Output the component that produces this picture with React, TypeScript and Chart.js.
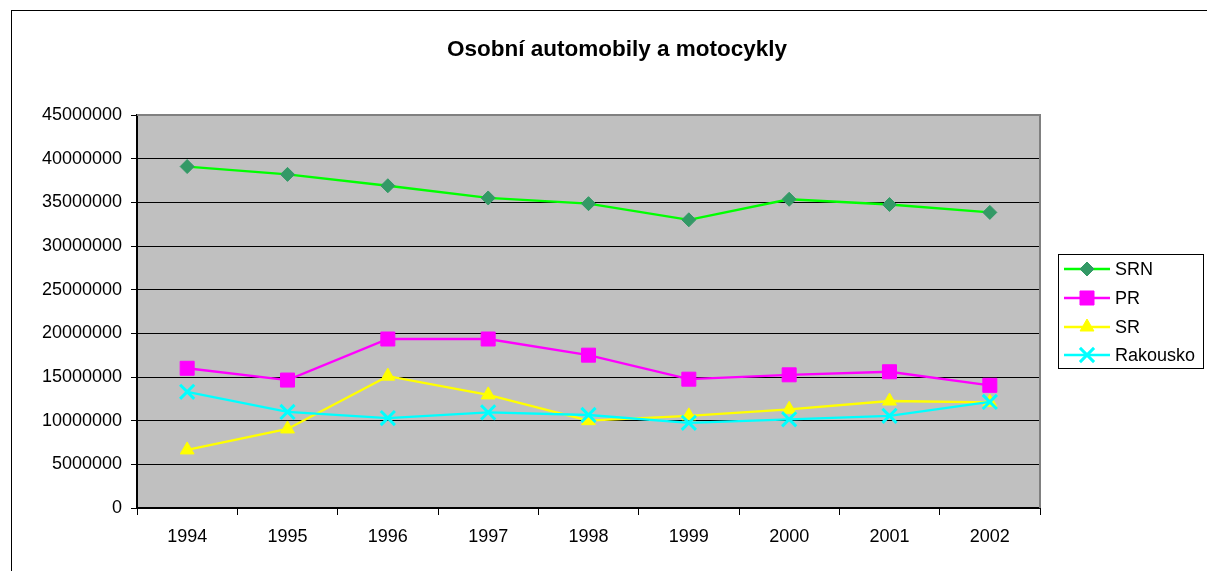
import React, { useEffect, useRef } from "react";
import { Chart, registerables } from "chart.js";
import { drawPoint } from "chart.js/helpers";

Chart.register(...registerables);

const years = ["1994", "1995", "1996", "1997", "1998", "1999", "2000", "2001", "2002"];
const srn = [39100000, 38200000, 36900000, 35500000, 34850000, 33000000, 35350000, 34750000, 33850000];
const pr = [16000000, 14650000, 19350000, 19350000, 17500000, 14750000, 15250000, 15600000, 14050000];
const sr = [6650000, 9050000, 15100000, 12950000, 10000000, 10550000, 11300000, 12250000, 12100000];
const rakousko = [13300000, 11000000, 10300000, 10950000, 10650000, 9750000, 10150000, 10550000, 12150000];
const seriesNames = ["SRN", "PR", "SR", "Rakousko"];
const chartTitle = "Osobní automobily a motocykly";

const FONT = "'Liberation Sans', Arial, sans-serif";

export default function App() {
  const ref = useRef<HTMLCanvasElement | null>(null);

  useEffect(() => {
    document.body.style.margin = "0";
    const canvas = ref.current!;
    const decor = {
      id: "decor",
      beforeDraw(chart: any) {
        const { ctx, chartArea: a } = chart;
        ctx.save();
        ctx.fillStyle = "#ffffff";
        ctx.fillRect(0, 0, chart.width, chart.height);
        ctx.strokeStyle = "#000000";
        ctx.lineWidth = 1;
        ctx.strokeRect(11.5, 10.5, 1300, 700);
        ctx.fillStyle = "#C0C0C0";
        ctx.fillRect(a.left, a.top, a.right - a.left, a.bottom - a.top);
        ctx.restore();
      },
      beforeDatasetsDraw(chart: any) {
        const { ctx, chartArea: a } = chart;
        ctx.save();
        ctx.strokeStyle = "#808080";
        ctx.lineWidth = 2;
        ctx.beginPath();
        ctx.moveTo(a.left, a.top);
        ctx.lineTo(a.right, a.top);
        ctx.lineTo(a.right, a.bottom);
        ctx.stroke();
        ctx.restore();
      },
      afterDraw(chart: any) {
        const { ctx } = chart;
        ctx.save();
        // title
        ctx.fillStyle = "#000";
        ctx.font = `bold 22.5px ${FONT}`;
        ctx.textAlign = "center";
        ctx.textBaseline = "middle";
        ctx.fillText(chartTitle, 617, 50);
        // legend
        ctx.strokeStyle = "#000";
        ctx.lineWidth = 1;
        ctx.strokeRect(1058.5, 254.5, 145, 114);
        const rows = [269, 298, 327, 355];
        chart.data.datasets.forEach((ds: any, i: number) => {
          const y = rows[i];
          ctx.strokeStyle = ds.borderColor;
          ctx.lineWidth = ds.borderWidth;
          ctx.beginPath();
          ctx.moveTo(1064, y);
          ctx.lineTo(1110, y);
          ctx.stroke();
          ctx.fillStyle = ds.pointBackgroundColor;
          ctx.strokeStyle = ds.pointBorderColor;
          ctx.lineWidth = ds.pointBorderWidth;
          drawPoint(ctx, { pointStyle: ds.pointStyle, rotation: 0, radius: ds.pointRadius, borderWidth: ds.pointBorderWidth }, 1087, y);
          ctx.fillStyle = "#000";
          ctx.font = `18px ${FONT}`;
          ctx.textAlign = "left";
          ctx.textBaseline = "middle";
          ctx.fillText(ds.label, 1115, y + 1);
        });
        ctx.restore();
      },
    };

    const chart = new Chart(canvas, {
      type: "line",
      data: {
        labels: years,
        datasets: [
          {
            label: seriesNames[0], data: srn, borderColor: "#00FF00", borderWidth: 2.3,
            pointStyle: "rectRot", pointRadius: 7, pointBackgroundColor: "#339966",
            pointBorderColor: "#339966", pointBorderWidth: 1, order: 4, tension: 0,
          },
          {
            label: seriesNames[1], data: pr, borderColor: "#FF00FF", borderWidth: 2.3,
            pointStyle: "rect", pointRadius: 9.9, pointBackgroundColor: "#FF00FF",
            pointBorderColor: "#FF00FF", pointBorderWidth: 1, order: 3, tension: 0,
          },
          {
            label: seriesNames[2], data: sr, borderColor: "#FFFF00", borderWidth: 2.3,
            pointStyle: "triangle", pointRadius: 8, pointBackgroundColor: "#FFFF00",
            pointBorderColor: "#FFFF00", pointBorderWidth: 1, order: 2, tension: 0,
          },
          {
            label: seriesNames[3], data: rakousko, borderColor: "#00FFFF", borderWidth: 2.3,
            pointStyle: "crossRot", pointRadius: 10, pointBackgroundColor: "#00FFFF",
            pointBorderColor: "#00FFFF", pointBorderWidth: 3, order: 1, tension: 0,
          },
        ],
      },
      options: {
        responsive: false,
        animation: false,
        events: [],
        layout: { padding: { left: 0, top: 115, right: 167, bottom: 0 } },
        plugins: { legend: { display: false }, title: { display: false }, tooltip: { enabled: false } },
        scales: {
          x: {
            type: "category",
            offset: true,
            afterFit(scale: any) { scale.height = 63; },
            grid: { display: true, drawOnChartArea: false, drawTicks: true, tickLength: 7, offset: true, color: "#000", lineWidth: 1, tickColor: "#000" },
            border: { display: true, color: "#000", width: 2 },
            ticks: { color: "#000", font: { family: FONT, size: 18 }, padding: 11, maxRotation: 0, autoSkip: false },
          },
          y: {
            min: 0,
            max: 45000000,
            afterFit(scale: any) { scale.width = 137; },
            grid: {
              display: true, drawOnChartArea: true, drawTicks: true, tickLength: 6,
              color: (c: any) => (c.tick && (c.tick.value === 45000000 || c.tick.value === 0) ? "rgba(0,0,0,0)" : "#000"),
              tickColor: "#000", lineWidth: 1,
            },
            border: { display: true, color: "#000", width: 2 },
            ticks: {
              stepSize: 5000000, color: "#000", font: { family: FONT, size: 18 }, padding: 9,
              callback: (v: any) => String(v),
            },
          },
        },
      },
      plugins: [decor],
    });
    return () => chart.destroy();
  }, []);

  return (
    <div style={{ position: "fixed", left: 0, top: 0, width: 1207, height: 571 }}>
      <canvas ref={ref} width={1207} height={571} style={{ width: 1207, height: 571, display: "block" }} />
    </div>
  );
}
